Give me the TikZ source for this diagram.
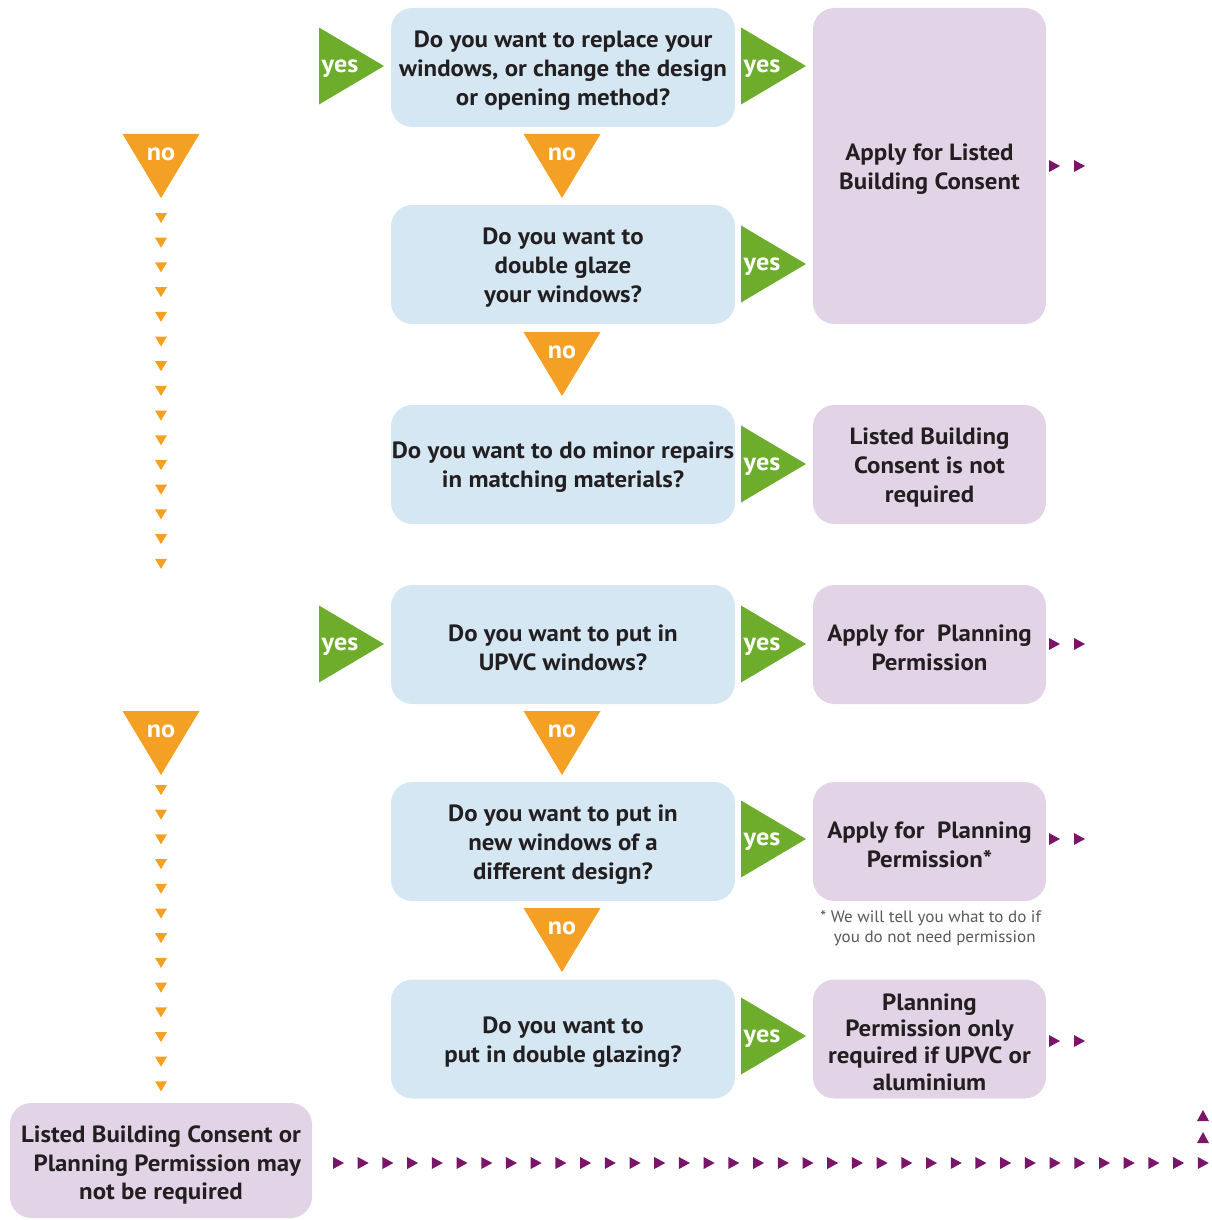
\documentclass[tikz,border=0pt]{standalone}
\usepackage{fontspec}
\setmainfont{PT Sans}[FakeStretch=1.06]
\newfontfamily\notefont{PT Sans}[FakeStretch=1.03]
\definecolor{qblue}{HTML}{D4E7F2}
\definecolor{ppl}{HTML}{E2D4E6}
\definecolor{ygreen}{HTML}{6EAD2B}
\definecolor{norange}{HTML}{F4A024}
\definecolor{darrow}{HTML}{7A1568}
\definecolor{txt}{HTML}{231F20}
\tikzset{
  qbox/.style={rounded corners=16pt, fill=qblue, minimum width=258pt, minimum height=89.25pt, inner sep=0pt},
  pbox/.style={rounded corners=16pt, fill=ppl, minimum width=174.75pt, minimum height=89.25pt, inner sep=0pt},
  btext/.style={inner sep=0pt, align=center, font=\bfseries\fontsize{17.6}{21.6}\selectfont, text=txt},
  yestext/.style={font=\bfseries\fontsize{18.5}{18}\selectfont, text=white, inner sep=0pt},
  notext/.style={font=\bfseries\fontsize{18.5}{18}\selectfont, text=white, inner sep=0pt},
}
\newcommand\yesarr[3]{%
  \fill[ygreen] (#2,#3-38.5) -- (#2+65,#3) -- (#2,#3+38.5) -- cycle;
  \node[yestext] (#1) at (#2+21,#3+3) {yes};}
\newcommand\noarr[3]{%
  \fill[norange] (#2-38.5,#3) -- (#2+38.5,#3) -- (#2,#3+64) -- cycle;
  \node[notext] (#1) at (#2,#3+20) {no};}
\newcommand\txtin[3]{\node[btext,#2] (#1t) at ([yshift=-2.25pt]#1.center) {#3};}
\begin{document}
\begin{tikzpicture}[x=0.75pt,y=-0.75pt]
\useasboundingbox (0,0) rectangle (1212,1220);
% question boxes
\node[qbox] (q1) at (563,67.5) {};
\node[qbox] (q2) at (563,264.5) {};
\node[qbox] (q3) at (563,464.5) {};
\node[qbox] (q4) at (563,644.5) {};
\node[qbox] (q5) at (563,841.5) {};
\node[qbox] (q6) at (563,1039) {};
\txtin{q1}{}{Do you want to replace your\\windows, or change the design\\or opening method?}
\txtin{q2}{}{Do you want to\\double glaze\\your windows?}
\txtin{q3}{}{Do you want to do minor repairs\\in matching materials?}
\txtin{q4}{}{Do you want to put in\\UPVC windows?}
\txtin{q5}{}{Do you want to put in\\new windows of a\\different design?}
\txtin{q6}{}{Do you want to\\put in double glazing?}
% outcome boxes
\node[pbox, minimum height=237pt] (p1) at (929.5,166) {};
\node[pbox] (p2) at (929.5,464.5) {};
\node[pbox] (p3) at (929.5,644.5) {};
\node[pbox] (p4) at (929.5,841.5) {};
\node[pbox] (p5) at (929.5,1039) {};
\node[pbox, minimum width=226.5pt, minimum height=86.25pt] (p6) at (161,1160.5) {};
\txtin{p1}{}{Apply for Listed\\Building Consent}
\txtin{p2}{}{Listed Building\\Consent is not\\required}
\txtin{p3}{}{Apply for\ \ Planning\\Permission}
\txtin{p4}{}{Apply for\ \ Planning\\Permission*}
\txtin{p5}{font=\bfseries\fontsize{17.6}{20}\selectfont}{Planning\\Permission only\\required if UPVC or\\aluminium}
\node[btext] (p6t) at ([yshift=-3.4pt]p6.center) {Listed Building Consent or\\\ \ Planning Permission may\\not be required};
\node[align=left, text=black!65, font=\notefont\fontsize{12.4}{15}\selectfont, inner sep=0pt, anchor=north west] (note) at (820,910) {* We will tell you what to do if\\\ \ \ you do not need permission};
% yes arrows
\yesarr{y1l}{319}{66}
\yesarr{y1r}{741}{66}
\yesarr{y2r}{741}{264}
\yesarr{y3r}{741}{464}
\yesarr{y4l}{319}{644}
\yesarr{y4r}{741}{644}
\yesarr{y5r}{741}{839}
\yesarr{y6r}{741}{1036}
% no arrows
\noarr{n1}{562}{134}
\noarr{n2}{562}{332}
\noarr{n4}{562}{711}
\noarr{n5}{562}{908}
\noarr{nl1}{161}{134}
\noarr{nl2}{161}{711}
% small orange chains
\foreach \i in {0,...,14} \fill[norange] (155,{213+\i*24.7}) -- (167,{213+\i*24.7}) -- (161,{223+\i*24.7}) -- cycle;
\foreach \i in {0,...,12} \fill[norange] (155,{785+\i*24.7}) -- (167,{785+\i*24.7}) -- (161,{795+\i*24.7}) -- cycle;
% small purple arrows
\foreach \yy in {166,644,839,1041} {
  \foreach \xx in {1054,1079} \fill[darrow] (\xx-5,\yy-6) -- (\xx+6,\yy) -- (\xx-5,\yy+6) -- cycle;
}
\foreach \i in {0,...,35} \fill[darrow] ({333+\i*24.71},1157) -- ({344+\i*24.71},1163) -- ({333+\i*24.71},1169) -- cycle;
\foreach \yy in {1116,1138} \fill[darrow] (1197,\yy+5) -- (1209,\yy+5) -- (1203,\yy-6) -- cycle;
\end{tikzpicture}
\end{document}
